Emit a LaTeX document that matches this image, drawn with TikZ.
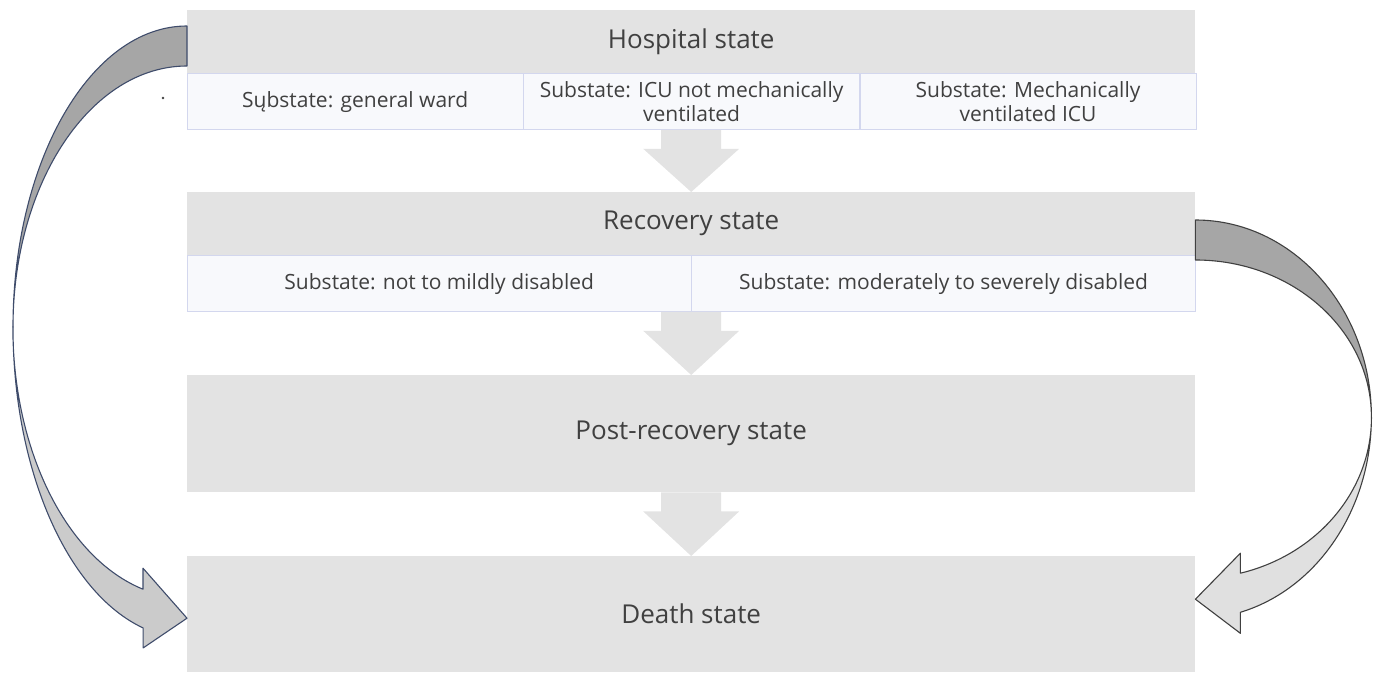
\documentclass[tikz,border=0pt]{standalone}
\usepackage{fontspec}
\setmainfont{Open Sans}
\usetikzlibrary{positioning}
\usetikzlibrary{calc}

\definecolor{boxgray}{HTML}{E3E3E3}
\definecolor{subfill}{HTML}{F8F9FC}
\definecolor{subline}{HTML}{D3D7EE}
\definecolor{txtgray}{HTML}{404040}
\definecolor{leftedge}{HTML}{3F4C6B}
\definecolor{rightedge}{HTML}{404040}
\definecolor{bandback}{HTML}{A6A6A6}
\definecolor{leftfront}{HTML}{CBCBCB}
\definecolor{rightfront}{HTML}{E0E0E0}

\tikzset{
	statebox/.style={fill=boxgray, text=txtgray, inner sep=0pt, minimum width=1008pt,
		font=\fontsize{26}{30}\selectfont},
	subbox/.style={draw=subline, fill=subfill, text=txtgray, inner sep=0pt, align=center,
		anchor=north west, font=\fontsize{21}{24}\selectfont},
}

% grey block arrow from the bottom of one state to the top of the next
\newcommand{\statearrow}[2]{
	\fill[boxgray] let \p1=(#1), \p2=(#2) in
		(\x1-30pt,\y1) -- (\x1-30pt,\y1-19pt) -- (\x1-48pt,\y1-19pt) -- (\x2,\y2)
		-- (\x1+48pt,\y1-19pt) -- (\x1+30pt,\y1-19pt) -- (\x1+30pt,\y1) -- cycle;
}

\begin{document}
\begin{tikzpicture}[x=1pt,y=-1pt]
	\useasboundingbox (0,0) rectangle (1379,674);

	% states
	\node[statebox, minimum height=63pt, anchor=north west] (hosp) at (187,10) {Hospital state};
	\node[subbox, minimum width=336pt, minimum height=56pt] (ward) at (hosp.south west) {Sųbstate: general ward};
	\node[subbox, minimum width=336pt, minimum height=56pt] (icu) at (ward.north east) {Substate: ICU not mechanically\\ventilated};
	\node[subbox, minimum width=336pt, minimum height=56pt] (mv) at (icu.north east) {Substate: Mechanically\\ventilated ICU};

	\node[statebox, minimum height=63pt, anchor=north west] (recov) at (187,192) {Recovery state};
	\node[subbox, minimum width=504pt, minimum height=56pt] (mild) at (recov.south west) {Substate: not to mildly disabled};
	\node[subbox, minimum width=504pt, minimum height=56pt] (severe) at (mild.north east) {Substate: moderately to severely disabled};

	\node[statebox, minimum height=117pt, anchor=north west] (post) at (187,375) {Post-recovery state};
	\node[statebox, minimum height=116pt, anchor=north west] (death) at (187,556) {Death state};

	\fill[txtgray] (163,98) circle (1.3);

	% straight arrows
	\statearrow{recov |- ward.south}{recov.north}
	\statearrow{post |- mild.south}{post.north}
	\statearrow{post.south}{death.north}

	% curved arrow on the left, hospital to death
	\coordinate (ltop) at ($(hosp.north west)+(0,16)$);
	\coordinate (ltip) at ($(death.west)+(0,4)$);
	\filldraw[draw=leftedge, fill=bandback, line width=1.1pt, line join=round]
		(ltop) arc[start angle=-90, end angle=-180, x radius=174, y radius=301] coordinate (lmid)
		arc[start angle=180, end angle=270, x radius=174, y radius=261] -- cycle;
	\filldraw[draw=leftedge, fill=leftfront, line width=1.1pt, line join=round]
		(lmid) arc[start angle=180, end angle=104.6, x radius=174, y radius=311]
		-- ++(0,20) -- (ltip) -- ++(-44,-50) -- ++(0,21)
		arc[start angle=104.6, end angle=180, x radius=174, y radius=271] -- cycle;

	% curved arrow on the right, recovery to death
	\coordinate (rtop) at ($(recov.north east)+(0,28)$);
	\coordinate (rtip) at ($(death.east)+(0,-15)$);
	\filldraw[draw=rightedge, fill=bandback, line width=1.1pt, line join=round]
		(rtop) arc[start angle=-90, end angle=0, x radius=176, y radius=197] coordinate (rmid)
		arc[start angle=0, end angle=-90, x radius=176, y radius=157] -- cycle;
	\filldraw[draw=rightedge, fill=rightfront, line width=1.1pt, line join=round]
		(rmid) arc[start angle=0, end angle=75.2, x radius=176, y radius=202]
		-- ++(0,21) -- (rtip) -- ++(45,-46) -- ++(0,20)
		arc[start angle=75.2, end angle=0, x radius=176, y radius=161] -- cycle;
\end{tikzpicture}
\end{document}
